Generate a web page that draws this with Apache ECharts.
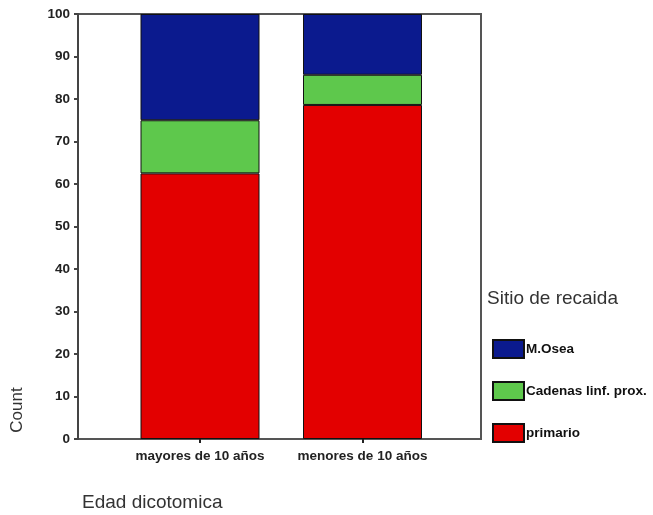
<!DOCTYPE html>
<html>
<head>
<meta charset="utf-8">
<script src="https://cdn.jsdelivr.net/npm/echarts@6/dist/echarts.min.js"></script>
<style>html,body{margin:0;padding:0;background:#fff}#c{width:653px;height:515px}</style>
</head>
<body>
<div id="c"></div>
<script>
const categories = ['mayores de 10 años', 'menores de 10 años'];
const primario = [62.5, 78.6];
const cadenas = [12.5, 7.1];
const mOsea = [25.0, 14.3];
const yTicks = [0, 10, 20, 30, 40, 50, 60, 70, 80, 90, 100];
const seriesNames = ['primario', 'Cadenas linf. prox.', 'M.Osea'];

const chart = echarts.init(document.getElementById('c'), null, {renderer: 'canvas'});
const barBase = {
  type: 'bar', stack: 'total', xAxisIndex: 1, yAxisIndex: 1, barWidth: 119
};
const smallFont = {fontFamily: 'Liberation Sans', fontWeight: 'bold', fontSize: 13.5, color: '#222'};
chart.setOption({
  animation: false,
  backgroundColor: '#fff',
  title: [
    {text: 'Edad dicotomica', left: 82, top: 493, padding: 0,
     textStyle: {fontFamily: 'Liberation Sans', fontSize: 19, fontWeight: 'normal', color: '#333'}},
    {text: 'Sitio de recaida', left: 487, top: 289, padding: 0,
     textStyle: {fontFamily: 'Liberation Sans', fontSize: 19, fontWeight: 'normal', color: '#333'}}
  ],
  legend: {
    orient: 'vertical', left: 492, top: 339, padding: 0,
    itemWidth: 31, itemHeight: 18, itemGap: 22, icon: 'rect',
    data: [seriesNames[2], seriesNames[1], seriesNames[0]],
    textStyle: Object.assign({}, smallFont, {fontSize: 13.5, color: '#111', padding: [0, 0, 0, -3]}),
    selectedMode: false
  },
  graphic: [{
    type: 'text', x: 17, y: 410, rotation: Math.PI / 2,
    style: {text: 'Count', font: '17px "Liberation Sans"', fill: '#333', textAlign: 'center', textVerticalAlign: 'middle'}
  }],
  grid: [
    {left: 78, right: 172, top: 14, bottom: 76, show: true, borderColor: '#555', borderWidth: 2, backgroundColor: 'transparent'},
    {left: 118.75, right: 209.25, top: 14, bottom: 76}
  ],
  xAxis: [
    {gridIndex: 0, type: 'value', min: 0, max: 1, show: false},
    {gridIndex: 1, type: 'category', data: categories,
     axisLine: {show: false},
     axisTick: {show: true, alignWithLabel: true, length: 4, lineStyle: {color: '#222', width: 2}},
     axisLabel: Object.assign({interval: 0, margin: 10}, smallFont)}
  ],
  yAxis: [
    {gridIndex: 0, type: 'value', min: yTicks[0], max: yTicks[yTicks.length - 1], interval: 10,
     splitLine: {show: false},
     axisLine: {show: true, lineStyle: {color: '#444', width: 2}},
     axisTick: {show: true, length: 4, lineStyle: {color: '#444', width: 2}},
     axisLabel: Object.assign({margin: 8}, smallFont)},
    {gridIndex: 1, type: 'value', min: 0, max: 100, show: false}
  ],
  series: [
    Object.assign({}, barBase, {name: seriesNames[0], data: primario, itemStyle: {color: '#e30000', borderColor: '#111', borderWidth: 1}}),
    Object.assign({}, barBase, {name: seriesNames[1], data: cadenas, itemStyle: {color: '#5ec84c', borderColor: '#111', borderWidth: 1}}),
    Object.assign({}, barBase, {name: seriesNames[2], data: mOsea, itemStyle: {color: '#0b1a8e', borderColor: '#111', borderWidth: 1}})
  ]
});
</script>
</body>
</html>
